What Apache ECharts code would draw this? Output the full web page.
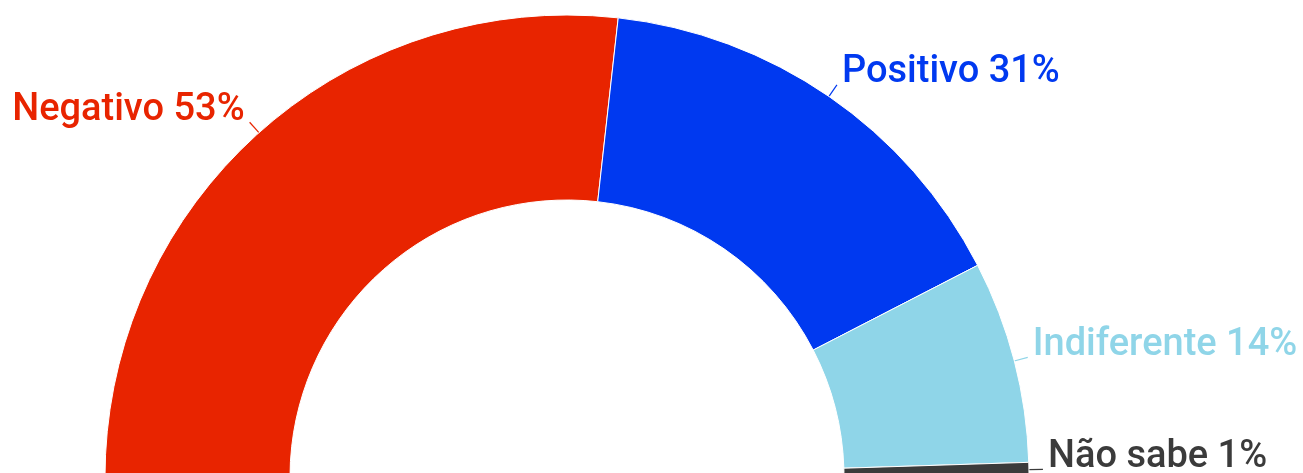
<!DOCTYPE html>
<html>
<head>
<meta charset="utf-8">
<script src="https://cdn.jsdelivr.net/npm/echarts@6/dist/echarts.min.js"></script>
<style>
html,body{margin:0;padding:0;background:#fff;}
#chart{width:1303px;height:473px;}
</style>
</head>
<body>
<div id="chart"></div>
<script>
const categories = ['Negativo', 'Positivo', 'Indiferente', 'Não sabe'];
const values = [53, 31, 14, 1];
const colors = ['#E82400', '#0039F0', '#8FD5E8', '#3B3B3B'];

const chart = echarts.init(document.getElementById('chart'), null, {renderer: 'canvas'});
const data = categories.map((c, i) => ({
  name: c,
  value: values[i],
  itemStyle: {color: colors[i]},
  label: {color: colors[i]},
  labelLine: {lineStyle: {color: colors[i]}}
}));
chart.setOption({
  animation: false,
  series: [{
    type: 'pie',
    center: [567, 477],
    radius: [277, 462],
    startAngle: 180,
    endAngle: 0,
    clockwise: true,
    avoidLabelOverlap: false,
    itemStyle: {borderColor: '#fff', borderWidth: 1},
    label: {
      show: true,
      position: 'outside',
      formatter: p => p.name + ' ' + p.value + '%',
      fontFamily: 'Roboto',
      fontWeight: 500,
      fontSize: 38
    },
    labelLayout: () => ({dy: -12}),
    labelLine: {show: true, length: 14, length2: 0, smooth: false, lineStyle: {width: 1.2}},
    data: data
  }]
});
</script>
</body>
</html>
